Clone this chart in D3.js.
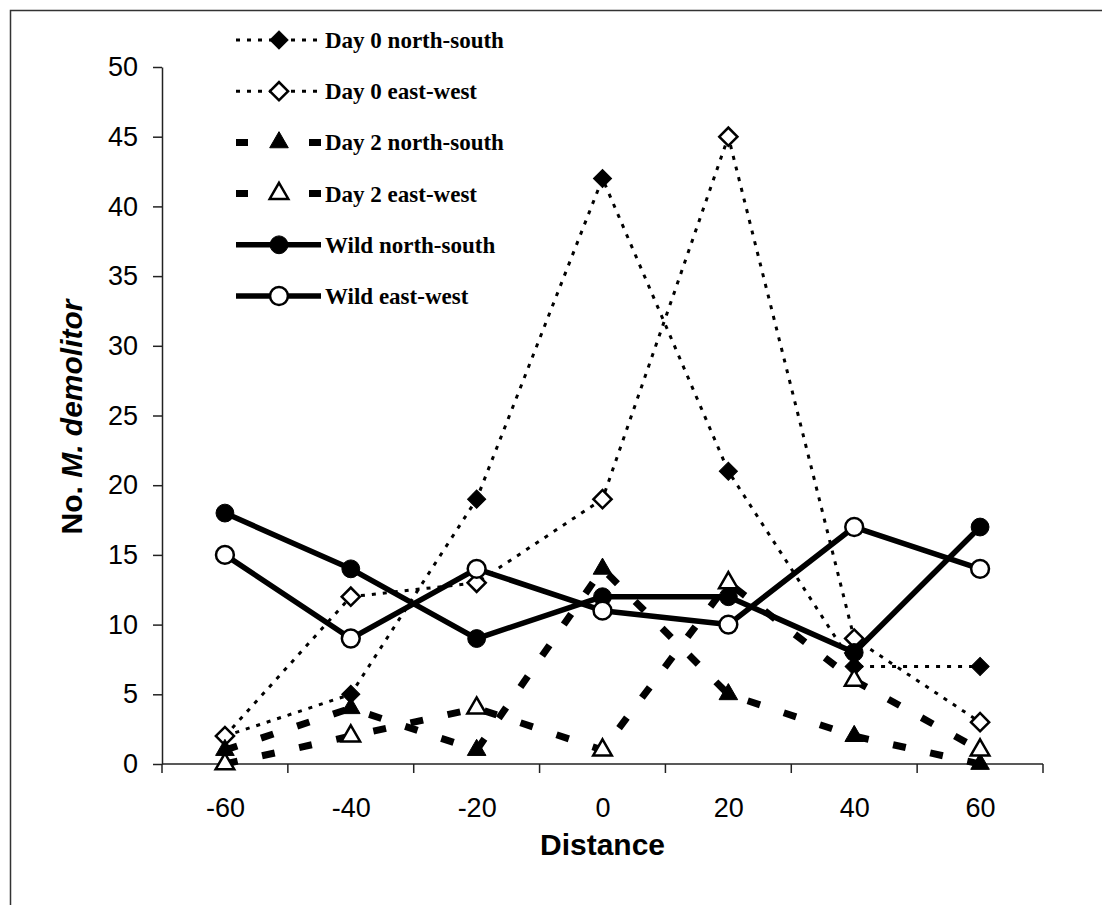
<!DOCTYPE html>
<html>
<head>
<meta charset="utf-8">
<script src="https://cdn.jsdelivr.net/npm/d3@7"></script>
<style>
  body { margin: 0; background: #fff; }
  svg { display: block; }
</style>
</head>
<body>
<div id="chart"></div>
<script>
// distance categories (x) and counts per series (y)
var distances = [-60, -40, -20, 0, 20, 40, 60];
var day0NorthSouth = [2, 5, 19, 42, 21, 7, 7];
var day0EastWest = [2, 12, 13, 19, 45, 9, 3];
var day2NorthSouth = [1, 4, 1, 14, 5, 2, 0];
var day2EastWest = [0, 2, 4, 1, 13, 6, 1];
var wildNorthSouth = [18, 14, 9, 12, 12, 8, 17];
var wildEastWest = [15, 9, 14, 11, 10, 17, 14];
var yTicks = [0, 5, 10, 15, 20, 25, 30, 35, 40, 45, 50];
var seriesNames = ["Day 0 north-south", "Day 0 east-west", "Day 2 north-south",
                   "Day 2 east-west", "Wild north-south", "Wild east-west"];

var W = 1102, H = 905;
var plot = { left: 162, right: 1043, top: 67, bottom: 764 };

// line + marker look for each series (legend dash differs for the thick dashes)
var styles = [
    { dash: "4,7", legendDash: "4,7", width: 3, shape: "diamond", filled: true },
    { dash: "4,7", legendDash: "4,7", width: 3, shape: "diamond", filled: false },
    { dash: "13,25", legendDash: "12,61", width: 7, shape: "triangle", filled: true },
    { dash: "13,25", legendDash: "12,61", width: 7, shape: "triangle", filled: false },
    { dash: null, legendDash: null, width: 5.5, shape: "circle", filled: true },
    { dash: null, legendDash: null, width: 5.5, shape: "circle", filled: false }
];
var allValues = [day0NorthSouth, day0EastWest, day2NorthSouth, day2EastWest, wildNorthSouth, wildEastWest];

var series = seriesNames.map(function (name, i) {
    return { name: name, values: allValues[i], style: styles[i] };
});

var svg = d3.select("#chart").append("svg")
    .attr("width", W)
    .attr("height", H);

// outer frame
svg.append("rect")
    .attr("x", 10.5).attr("y", 10.5)
    .attr("width", 1120).attr("height", 920)
    .attr("fill", "none")
    .attr("stroke", "#333")
    .attr("stroke-width", 1.5);

// scales
var x = d3.scalePoint()
    .domain(distances)
    .range([plot.left, plot.right])
    .padding(0.5);
var y = d3.scaleLinear()
    .domain([0, 50])
    .range([plot.bottom, plot.top]);

// y axis
var yAxis = svg.append("g")
    .attr("transform", "translate(" + plot.left + ",0)")
    .call(d3.axisLeft(y).tickValues(yTicks).tickSize(9).tickPadding(15).tickSizeOuter(0));
yAxis.selectAll("text")
    .attr("font-family", "'Liberation Sans', Arial, sans-serif")
    .attr("font-size", 27)
    .attr("fill", "#000");
yAxis.selectAll("line, path").attr("stroke", "#222").attr("stroke-width", 1.5);

// x axis: labels at category centres, ticks at category edges
var xAxis = svg.append("g")
    .attr("transform", "translate(0," + plot.bottom + ")")
    .call(d3.axisBottom(x).tickSize(0).tickPadding(34).tickSizeOuter(0));
xAxis.select(".domain")
    .attr("d", "M" + plot.left + ",0H" + plot.right)
    .attr("stroke", "#222").attr("stroke-width", 1.5);
xAxis.selectAll("text")
    .attr("font-family", "'Liberation Sans', Arial, sans-serif")
    .attr("font-size", 27)
    .attr("fill", "#000");

var step = x.step();
var edges = distances.map(function (d) { return x(d) - step / 2; });
edges.push(x(distances[distances.length - 1]) + step / 2);
xAxis.selectAll(".edge")
    .data(edges)
    .enter().append("line")
    .attr("class", "edge")
    .attr("x1", function (d) { return d; })
    .attr("x2", function (d) { return d; })
    .attr("y1", 0).attr("y2", 9)
    .attr("stroke", "#222").attr("stroke-width", 1.5);

// axis titles
svg.append("text")
    .attr("x", x(0))
    .attr("y", 855)
    .attr("text-anchor", "middle")
    .attr("font-family", "'Liberation Sans', Arial, sans-serif")
    .attr("font-weight", "bold")
    .attr("font-size", 30)
    .text("Distance");

var yTitle = svg.append("text")
    .attr("transform", "translate(82,417) rotate(-90)")
    .attr("text-anchor", "middle")
    .attr("font-family", "'Liberation Sans', Arial, sans-serif")
    .attr("font-weight", "bold")
    .attr("font-size", 30);
yTitle.append("tspan").text("No. ");
yTitle.append("tspan").attr("font-style", "italic").text("M. demolitor");

// marker drawing
function markerPath(shape) {
    if (shape === "diamond") return d3.symbol(d3.symbolSquare, 165)();
    if (shape === "triangle") return d3.symbol(d3.symbolTriangle, 150)();
    return d3.symbol(d3.symbolCircle, 250)();
}
function addMarker(g, cx, cy, st) {
    g.append("path")
        .attr("d", markerPath(st.shape))
        .attr("transform", "translate(" + cx + "," + cy + ")" + (st.shape === "diamond" ? " rotate(45)" : ""))
        .attr("fill", st.filled ? "#000" : "#fff")
        .attr("stroke", "#000")
        .attr("stroke-width", st.filled ? 1 : 2.5);
}

var line = d3.line()
    .x(function (d) { return x(d.dist); })
    .y(function (d) { return y(d.count); });

// series lines and markers
series.forEach(function (s) {
    var data = distances.map(function (d, i) { return { dist: d, count: s.values[i] }; });
    var g = svg.append("g");
    g.append("path")
        .datum(data)
        .attr("d", line)
        .attr("fill", "none")
        .attr("stroke", "#000")
        .attr("stroke-width", s.style.width)
        .attr("stroke-dasharray", s.style.dash)
        .attr("stroke-linejoin", "round");
    data.forEach(function (d) {
        addMarker(g, x(d.dist), y(d.count), s.style);
    });
});

// legend
var legend = svg.append("g");
series.forEach(function (s, i) {
    var ly = 40 + i * 51.2;
    var row = legend.append("g");
    row.append("line")
        .attr("x1", 236).attr("x2", 321)
        .attr("y1", ly).attr("y2", ly)
        .attr("stroke", "#000")
        .attr("stroke-width", s.style.width)
        .attr("stroke-dasharray", s.style.legendDash);
    addMarker(row, 279, ly, s.style);
    row.append("text")
        .attr("x", 325)
        .attr("y", ly)
        .attr("dy", "0.35em")
        .attr("font-family", "'Liberation Serif', 'Times New Roman', serif")
        .attr("font-weight", "bold")
        .attr("font-size", 23)
        .text(s.name);
});
</script>
</body>
</html>
